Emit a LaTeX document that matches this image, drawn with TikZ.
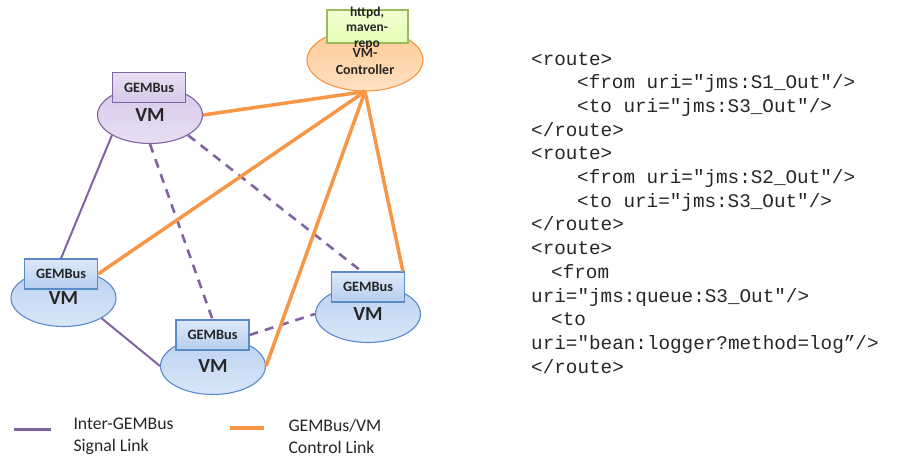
\documentclass[tikz,border=0pt]{standalone}
\usepackage{fontspec}
\setmainfont{Carlito}
\setmonofont{Liberation Mono}
\usetikzlibrary{shapes.geometric}

\definecolor{sigpurple}{HTML}{8064A2}
\definecolor{ctlorange}{HTML}{F79646}
\definecolor{vmblue}{HTML}{5B8ACB}
\definecolor{ctlgreen}{HTML}{9BBB59}
\definecolor{labelgray}{HTML}{262626}
\definecolor{vmtop}{HTML}{BCD2F1}
\definecolor{vmbottom}{HTML}{D8E6F8}
\definecolor{bustop}{HTML}{DDE9F9}
\definecolor{busbottom}{HTML}{B6CDEF}
\definecolor{gemtop}{HTML}{D6C8EA}
\definecolor{gembottom}{HTML}{E8DFF3}

\tikzset{
    vmnode/.style={ellipse, draw=vmblue, line width=1.1pt, minimum width=105pt, minimum height=57pt,
        inner sep=0pt, text=labelgray, font=\bfseries\fontsize{20}{21}\selectfont,
        top color=vmtop, bottom color=vmbottom},
    busbox/.style={rectangle, draw=vmblue, line width=1.1pt, minimum width=73pt, minimum height=30pt,
        inner sep=0pt, text=labelgray, font=\bfseries\fontsize{14.3}{16}\selectfont,
        top color=bustop, bottom color=busbottom},
    signal/.style={draw=sigpurple, line width=2pt},
    signaldash/.style={signal, line width=2.6pt, dash pattern=on 9pt off 7pt},
    control/.style={draw=ctlorange, line width=3.5pt},
    legendtext/.style={anchor=west, align=left, text=labelgray, font=\fontsize{17.7}{22}\selectfont},
    codeblock/.style={anchor=north west, align=left, inner sep=0pt, text=labelgray,
        font=\ttfamily\fontsize{19.3}{23.7}\selectfont}
}

\begin{document}
\begin{tikzpicture}[x=1pt, y=-1pt]
    \useasboundingbox (0,0) rectangle (919,459);

    % controller with its repository box
    \node[ellipse, draw=ctlorange, line width=1.1pt, minimum width=116pt, minimum height=62pt, inner sep=0pt,
          top color=orange!42, bottom color=orange!24] (ctrl) at (365,60) {};
    \node[align=center, text=labelgray, font=\bfseries\fontsize{14}{17}\selectfont] (ctrltext) at (365,62) {VM-\\Controller};
    \node[rectangle, draw=ctlgreen, line width=1.1pt, minimum width=81pt, minimum height=33pt, inner sep=0pt,
          top color=green!22!yellow!18, bottom color=green!40!yellow!28] (repo) at (367.5,26.5) {};
    \node[align=center, text=labelgray, font=\bfseries\fontsize{13.5}{15.5}\selectfont] (repotext) at (367,28) {httpd,\\maven-\\repo};

    % virtual machines
    \node[vmnode, draw=sigpurple, top color=gemtop, bottom color=gembottom] (tvm) at (150,115) {VM};
    \node[busbox, draw=sigpurple, top color=gembottom, bottom color=gemtop] (tbox) at (149,87.5) {GEMBus};
    \node[vmnode] (lvm) at (63.5,298) {VM};
    \node[busbox] (lbox) at (61,274) {GEMBus};
    \node[vmnode] (bvm) at (213,366) {VM};
    \node[busbox] (bbox) at (212.5,335) {GEMBus};
    \node[vmnode] (rvm) at (368,314) {VM};
    \node[busbox] (rbox) at (368,287) {GEMBus};

    % signal links
    \draw[signal] (tvm.208) -- (lbox.north);
    \draw[signal] (lvm.332) -- (bvm.west);
    \draw[signaldash] (tvm.south) -- (bbox.north);
    \draw[signaldash] (tvm.332) -- (rbox.112);
    \draw[signaldash] (bbox.east) -- (rvm.west);

    % control links
    \draw[control] (ctrl.south) -- (tvm.east);
    \draw[control] (ctrl.south) -- (lbox.east);
    \draw[control] (ctrl.south) -- (bvm.east);
    \draw[control] (ctrl.south) -- (rbox.24);

    % legend
    \coordinate (sigA) at (14,429);
    \coordinate (sigB) at (51,429);
    \coordinate (ctlA) at (230,428);
    \coordinate (ctlB) at (264,428);
    \draw[signal, line width=3pt] (sigA) -- (sigB);
    \draw[control, line width=4pt] (ctlA) -- (ctlB);
    \node[legendtext] (siglabel) at (70,436) {Inter-GEMBus\\Signal Link};
    \node[legendtext] (ctllabel) at (285,436) {GEMBus/VM\\Control Link};

    % camel routes
    \node[codeblock] (routes) at (531,52) {%
        <route>\\
        \hspace*{46pt}<from uri="jms:S1\_Out"/>\\
        \hspace*{46pt}<to uri="jms:S3\_Out"/>\\
        </route>\\
        <route>\\
        \hspace*{46pt}<from uri="jms:S2\_Out"/>\\
        \hspace*{46pt}<to uri="jms:S3\_Out"/>\\
        </route>\\
        <route>\\
        \hspace*{20pt}<from\\
        uri="jms:queue:S3\_Out"/>\\
        \hspace*{20pt}<to\\
        uri="bean:logger?method=log”/>\\
        </route>};
\end{tikzpicture}
\end{document}
